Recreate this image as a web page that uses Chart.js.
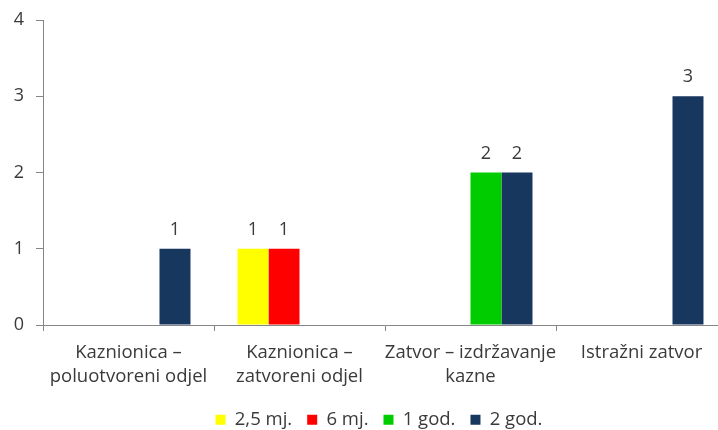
<!DOCTYPE html>
<html lang="hr">
<head>
    <meta charset="UTF-8">
    <title>Kazne po ustanovama</title>
    <script src="https://cdn.jsdelivr.net/npm/chart.js"></script>
    <style>
        html, body { margin: 0; padding: 0; background: #fff; overflow: hidden; }
        #wrap { width: 718px; height: 430px; overflow: hidden; }
    </style>
</head>
<body>
    <div id="wrap"><canvas id="kazneChart" width="758" height="439"></canvas></div>

    <script>
        const categories = [
            ['Kaznionica –', 'poluotvoreni odjel'],
            ['Kaznionica –', 'zatvoreni odjel'],
            ['Zatvor – izdržavanje', 'kazne'],
            'Istražni zatvor'
        ];
        const mj25 = [null, 1, null, null];
        const mj6 = [null, 1, null, null];
        const god1 = [null, null, 2, null];
        const god2 = [1, null, 2, 3];
        const yTicks = [0, 1, 2, 3, 4];

        const textColor = '#3a3a3a';
        const axisColor = '#868686';
        const fontFamily = '"Open Sans", "Liberation Sans", sans-serif';

        // value labels above the bars
        const valueLabels = {
            id: 'valueLabels',
            afterDatasetsDraw(chart) {
                const ctx = chart.ctx;
                ctx.save();
                ctx.fillStyle = textColor;
                ctx.font = '18px ' + fontFamily;
                ctx.textAlign = 'center';
                ctx.textBaseline = 'alphabetic';
                chart.data.datasets.forEach((ds, i) => {
                    const meta = chart.getDatasetMeta(i);
                    meta.data.forEach((bar, j) => {
                        if (ds.data[j] == null) return;
                        ctx.fillText(ds.data[j], bar.x, bar.y - 14);
                    });
                });
                ctx.restore();
            }
        };

        new Chart(document.getElementById('kazneChart'), {
            type: 'bar',
            data: {
                labels: categories,
                datasets: [
                    { label: '2,5 mj.', data: mj25, backgroundColor: '#FFFF00' },
                    { label: '6 mj.', data: mj6, backgroundColor: '#FF0000' },
                    { label: '1 god.', data: god1, backgroundColor: '#00CC00' },
                    { label: '2 god.', data: god2, backgroundColor: '#17375E' }
                ]
            },
            options: {
                responsive: false,
                animation: false,
                categoryPercentage: 0.725,
                barPercentage: 1,
                layout: { padding: { top: 20, right: 0, bottom: 0, left: 0 } },
                scales: {
                    x: {
                        grid: { drawOnChartArea: false, offset: true, tickLength: 6, color: axisColor },
                        border: { color: axisColor },
                        ticks: {
                            color: textColor,
                            font: { family: fontFamily, size: 18.5, lineHeight: 1.27 },
                            padding: 10,
                            maxRotation: 0,
                            autoSkip: false
                        },
                        afterFit(scale) {
                            scale.height = 70.5;
                            scale.paddingLeft = 0;
                            // plot runs on past the right edge of the picture
                            scale.paddingRight = 31;
                        }
                    },
                    y: {
                        min: 0,
                        max: 4,
                        afterBuildTicks(scale) { scale.ticks = yTicks.map(v => ({ value: v })); },
                        grid: { drawOnChartArea: false, tickLength: 7, color: axisColor },
                        border: { color: axisColor },
                        ticks: {
                            color: textColor,
                            font: { family: fontFamily, size: 18 },
                            padding: 12
                        },
                        afterFit(scale) {
                            scale.width = 43;
                            scale.paddingTop = 0;
                            scale.paddingBottom = 0;
                        }
                    }
                },
                plugins: {
                    legend: {
                        position: 'bottom',
                        labels: {
                            color: textColor,
                            font: { family: fontFamily, size: 18.5 },
                            boxWidth: 10,
                            boxHeight: 10,
                            padding: 15
                        }
                    },
                    tooltip: { enabled: false }
                }
            },
            plugins: [valueLabels]
        });
    </script>
</body>
</html>
